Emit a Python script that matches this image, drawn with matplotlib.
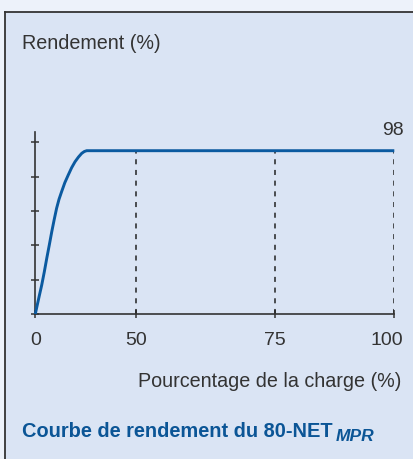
import numpy as np
import matplotlib
matplotlib.use("Agg")
import matplotlib.pyplot as plt
import matplotlib.transforms as mtransforms
from matplotlib.lines import Line2D
from matplotlib.patches import Rectangle

# ---- data ----
load_pct = [0, 2.0, 3.2, 4.5, 5.7, 7.0, 8.2, 9.4, 10.6, 11.8, 13.1, 14.7, 16.4,
            18.1, 19.8, 21.5, 23.1, 24.4, 25.6, 50, 75, 100]
efficiency = [0, 11.0, 17.4, 25.4, 33.4, 41.6, 49.4, 56.6, 63.4, 68.8, 73.4, 78.8, 83.4,
              87.8, 91.4, 94.2, 96.4, 97.5, 98, 98, 98, 98]
x_ticks = [0, 50, 75, 100]
x_tick_labels = ["0", "50", "75", "100"]
dashed_at = [50, 75, 100]
y_ticks = [0, 20.6, 41.2, 61.8, 82.4, 103.0]
peak_label = "98"
y_label = "Rendement (%)"
x_label = "Pourcentage de la charge (%)"
title_main = "Courbe de rendement du 80-NET"
title_sub = "MPR"

# non-linear x axis: tick values -> relative positions on the axis
x_break_vals = [0, 50, 75, 100]
x_break_pos = [0, 100.4, 239.4, 359.0]

def fwd(x):
    return np.interp(x, x_break_vals, x_break_pos)

def inv(p):
    return np.interp(p, x_break_pos, x_break_vals)

W, H = 413, 459
DPI = 100
plt.rcParams['font.family'] = ['Liberation Sans', 'DejaVu Sans']

OUTER = "#edf2fa"
INNER = "#dae4f4"
TEXT = "#333333"
BLUE = "#0b5aa0"
TITLE_BLUE = "#0b5596"

fig = plt.figure(figsize=(W / DPI, H / DPI), dpi=DPI, facecolor=OUTER)

def fx(px):
    return px / W

def fy(py):
    return 1 - py / H

# inner panel
fig.patches.append(Rectangle((fx(5), 0), 1 - fx(5), fy(12), transform=fig.transFigure,
                             facecolor=INNER, edgecolor='none', zorder=-5))
fig.lines.append(Line2D([fx(5), fx(5)], [0, fy(12)], transform=fig.transFigure,
                        color="#333333", lw=1.3, zorder=-4))
fig.lines.append(Line2D([fx(5), 1], [fy(12), fy(12)], transform=fig.transFigure,
                        color="#333333", lw=1.3, zorder=-4))

ax_left, ax_right = 35.3, 394.3
ax_bottom, ax_top = 314.0, 131.7
ax = fig.add_axes([fx(ax_left), fy(ax_bottom), fx(ax_right - ax_left), (ax_bottom - ax_top) / H])
ax.set_zorder(5)
ax.set_facecolor('none')
ax.set_xscale('function', functions=(fwd, inv))
ax.set_xlim(0, 100)
ax.set_ylim(0, 109.4)

for s in ['top', 'right']:
    ax.spines[s].set_visible(False)
for s in ['left', 'bottom']:
    ax.spines[s].set_color("#333333")
    ax.spines[s].set_linewidth(1.2)

ax.set_xticks(x_ticks)
ax.set_xticklabels(x_tick_labels)
ax.xaxis.set_minor_locator(matplotlib.ticker.NullLocator())
ax.set_yticks(y_ticks)
ax.set_yticklabels([])
ax.tick_params(axis='both', direction='inout', length=6, width=1.1, color="#333333",
               labelsize=14, labelcolor=TEXT, pad=10)

# last tick label sits slightly left of its tick, as in the original
last_lbl = ax.get_xticklabels()[-1]
last_lbl.set_transform(last_lbl.get_transform() +
                       mtransforms.ScaledTranslation(-7 / DPI, 0, fig.dpi_scale_trans))

for xv in dashed_at:
    ax.plot([xv, xv], [0, 98], color="#222222", lw=1.1, dashes=(3.3, 3.7), zorder=2)

ax.plot(load_pct, efficiency, color=BLUE, lw=2.1, solid_capstyle='butt',
        solid_joinstyle='round', zorder=3, clip_on=False)

ax.annotate(peak_label, xy=(100, 98), xytext=(6.5, 11), textcoords='offset points',
            ha='right', va='baseline', fontsize=14, color=TEXT)

fig.text(fx(22), fy(49), y_label, ha='left', va='baseline', fontsize=14.2, color=TEXT)
fig.text(fx(401), fy(387), x_label, ha='right', va='baseline', fontsize=14.2, color=TEXT)

t = fig.text(fx(22), fy(437), title_main, ha='left', va='baseline', fontsize=14.4,
             fontweight='bold', color=TITLE_BLUE)
r = fig.canvas.get_renderer()
bb = t.get_window_extent(renderer=r)
fig.text(bb.x1 / W + fx(3), fy(441), title_sub, ha='left', va='baseline', fontsize=12.5,
         fontweight='bold', fontstyle='italic', color=TITLE_BLUE)

fig.savefig("out.png", dpi=DPI, facecolor=OUTER)
